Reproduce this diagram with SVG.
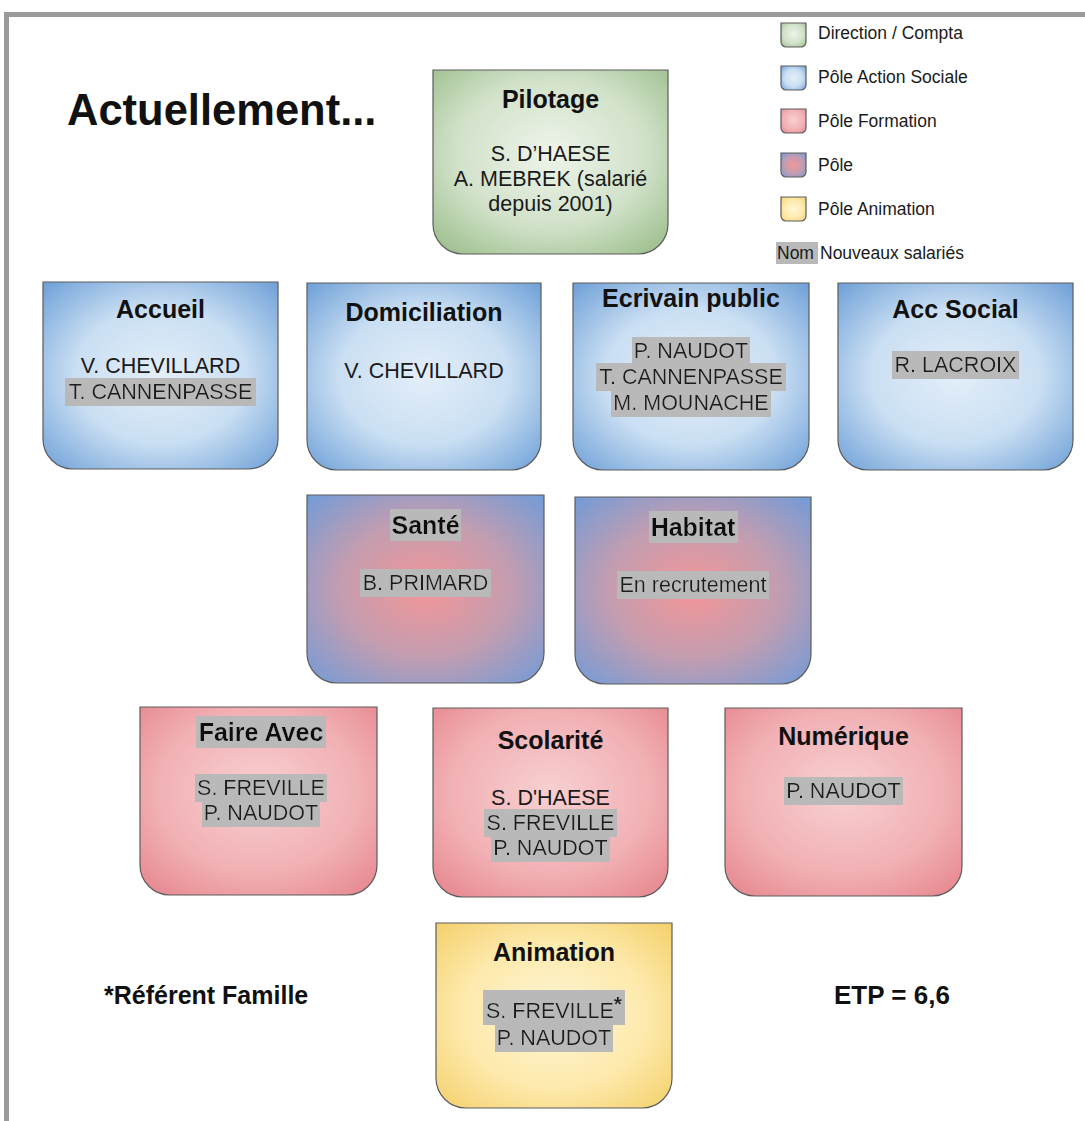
<svg xmlns="http://www.w3.org/2000/svg" width="1085" height="1121" viewBox="0 0 1085 1121">
  <defs>
    <radialGradient id="gGreen" cx="50%" cy="45%" r="72%">
      <stop offset="0" stop-color="#eef4ea"/>
      <stop offset="0.55" stop-color="#d2e2ca"/>
      <stop offset="1" stop-color="#9abd8a"/>
    </radialGradient>
    <radialGradient id="gBlue" cx="50%" cy="50%" r="72%">
      <stop offset="0" stop-color="#e3eef9"/>
      <stop offset="0.5" stop-color="#cadff3"/>
      <stop offset="1" stop-color="#6a9dd6"/>
    </radialGradient>
    <radialGradient id="gMix" cx="50%" cy="50%" r="72%">
      <stop offset="0" stop-color="#f49697"/>
      <stop offset="0.5" stop-color="#c39db0"/>
      <stop offset="1" stop-color="#6e9bd9"/>
    </radialGradient>
    <radialGradient id="gRed" cx="50%" cy="45%" r="72%">
      <stop offset="0" stop-color="#f8d0d2"/>
      <stop offset="0.6" stop-color="#f1b0b4"/>
      <stop offset="1" stop-color="#e6868d"/>
    </radialGradient>
    <radialGradient id="gYellow" cx="50%" cy="50%" r="72%">
      <stop offset="0" stop-color="#fff6d8"/>
      <stop offset="0.55" stop-color="#fde9ab"/>
      <stop offset="1" stop-color="#f4cf68"/>
    </radialGradient>
    <!-- grey background behind names of new staff -->
    <filter id="hl" x="-0.015" y="-0.06" width="1.03" height="1.12">
      <feFlood flood-color="#b9b9b9"/>
      <feComposite in="SourceGraphic" operator="over"/>
    </filter>
  </defs>
  <style>
    .box { stroke: #5c5c5c; stroke-width: 1.2; }
    .title { font-family: "Liberation Sans", Arial, sans-serif; font-weight: bold; font-size: 25px; fill: #111; text-anchor: middle; }
    .name { font-family: "Liberation Sans", Arial, sans-serif; font-size: 21.5px; fill: #1a1a1a; text-anchor: middle; }
    .hl { filter: url(#hl); }
    .leg { font-family: "Liberation Sans", Arial, sans-serif; font-size: 17.5px; fill: #1a1a1a; }
    .note { font-family: "Liberation Sans", Arial, sans-serif; font-weight: bold; font-size: 25px; fill: #111; }
    .sup { font-weight: bold; font-size: 21px; }
  </style>

  <rect width="1085" height="1121" fill="#ffffff"/>
  <!-- frame -->
  <path d="M6.5,1121 V14.5 H1085" fill="none" stroke="#9a9a9a" stroke-width="5"/>

  <text class="note" x="67" y="125" style="font-size:43.5px">Actuellement...</text>

  <!-- legend -->
  <g id="legend">
    <path class="box" d="M781,23 h25 v19 a5 5 0 0 1 -5 5 h-15 a5 5 0 0 1 -5 -5 z" fill="url(#gGreen)"/>
    <text class="leg" x="818" y="39">Direction / Compta</text>
    <path class="box" d="M781,66 h25 v19 a5 5 0 0 1 -5 5 h-15 a5 5 0 0 1 -5 -5 z" fill="url(#gBlue)"/>
    <text class="leg" x="818" y="83">Pôle Action Sociale</text>
    <path class="box" d="M781,109 h25 v19 a5 5 0 0 1 -5 5 h-15 a5 5 0 0 1 -5 -5 z" fill="url(#gRed)"/>
    <text class="leg" x="818" y="127">Pôle Formation</text>
    <path class="box" d="M781,153 h25 v19 a5 5 0 0 1 -5 5 h-15 a5 5 0 0 1 -5 -5 z" fill="url(#gMix)"/>
    <text class="leg" x="818" y="171">Pôle</text>
    <path class="box" d="M781,197 h25 v19 a5 5 0 0 1 -5 5 h-15 a5 5 0 0 1 -5 -5 z" fill="url(#gYellow)"/>
    <text class="leg" x="818" y="215">Pôle Animation</text>
    <rect x="776" y="242" width="42" height="22" fill="#b9b9b9"/>
    <text class="leg" x="777" y="259">Nom</text>
    <text class="leg" x="820" y="259">Nouveaux salariés</text>
  </g>

  <!-- no connectors are drawn between the units -->
  <g id="connectors"/>

  <g id="pilotage">
    <path class="box" d="M433,70 h235 v154 a30 30 0 0 1 -30 30 h-175 a30 30 0 0 1 -30 -30 z" fill="url(#gGreen)"/>
    <text class="title" x="550.5" y="108">Pilotage</text>
    <text class="name" x="550.5" y="161">S. D’HAESE</text>
    <text class="name" x="550.5" y="186">A. MEBREK (salarié</text>
    <text class="name" x="550.5" y="211">depuis 2001)</text>
  </g>

  <g id="accueil">
    <path class="box" d="M43,282 h235 v157 a30 30 0 0 1 -30 30 h-175 a30 30 0 0 1 -30 -30 z" fill="url(#gBlue)"/>
    <text class="title" x="160.5" y="318">Accueil</text>
    <text class="name" x="160.5" y="373">V. CHEVILLARD</text>
    <text class="name hl" x="160.5" y="399">T. CANNENPASSE</text>
  </g>

  <g id="domiciliation">
    <path class="box" d="M307,283 h234 v157 a30 30 0 0 1 -30 30 h-174 a30 30 0 0 1 -30 -30 z" fill="url(#gBlue)"/>
    <text class="title" x="424" y="321">Domiciliation</text>
    <text class="name" x="424" y="378">V. CHEVILLARD</text>
  </g>

  <g id="ecrivain">
    <path class="box" d="M573,283 h236 v157 a30 30 0 0 1 -30 30 h-176 a30 30 0 0 1 -30 -30 z" fill="url(#gBlue)"/>
    <text class="title" x="691" y="307">Ecrivain public</text>
    <text class="name hl" x="691" y="358">P. NAUDOT</text>
    <text class="name hl" x="691" y="384">T. CANNENPASSE</text>
    <text class="name hl" x="691" y="410">M. MOUNACHE</text>
  </g>

  <g id="acc-social">
    <path class="box" d="M838,283 h235 v157 a30 30 0 0 1 -30 30 h-175 a30 30 0 0 1 -30 -30 z" fill="url(#gBlue)"/>
    <text class="title" x="955.5" y="318">Acc Social</text>
    <text class="name hl" x="955.5" y="372">R. LACROIX</text>
  </g>

  <g id="sante">
    <path class="box" d="M307,495 h237 v158 a30 30 0 0 1 -30 30 h-177 a30 30 0 0 1 -30 -30 z" fill="url(#gMix)"/>
    <text class="title hl" x="425.5" y="534">Santé</text>
    <text class="name hl" x="425.5" y="590">B. PRIMARD</text>
  </g>

  <g id="habitat">
    <path class="box" d="M575,497 h236 v157 a30 30 0 0 1 -30 30 h-176 a30 30 0 0 1 -30 -30 z" fill="url(#gMix)"/>
    <text class="title hl" x="693" y="536">Habitat</text>
    <text class="name hl" x="693" y="592">En recrutement</text>
  </g>

  <g id="faire-avec">
    <path class="box" d="M140,707 h237 v158 a30 30 0 0 1 -30 30 h-177 a30 30 0 0 1 -30 -30 z" fill="url(#gRed)"/>
    <text class="title hl" x="261" y="741">Faire Avec</text>
    <text class="name hl" x="261" y="795">S. FREVILLE</text>
    <text class="name hl" x="261" y="820">P. NAUDOT</text>
  </g>

  <g id="scolarite">
    <path class="box" d="M433,708 h235 v159 a30 30 0 0 1 -30 30 h-175 a30 30 0 0 1 -30 -30 z" fill="url(#gRed)"/>
    <text class="title" x="550.5" y="749">Scolarité</text>
    <text class="name" x="550.5" y="805">S. D'HAESE</text>
    <text class="name hl" x="550.5" y="830">S. FREVILLE</text>
    <text class="name hl" x="550.5" y="855">P. NAUDOT</text>
  </g>

  <g id="numerique">
    <path class="box" d="M725,708 h237 v158 a30 30 0 0 1 -30 30 h-177 a30 30 0 0 1 -30 -30 z" fill="url(#gRed)"/>
    <text class="title" x="843.5" y="745">Numérique</text>
    <text class="name hl" x="843.5" y="798">P. NAUDOT</text>
  </g>

  <g id="animation">
    <path class="box" d="M436,923 h236 v155 a30 30 0 0 1 -30 30 h-176 a30 30 0 0 1 -30 -30 z" fill="url(#gYellow)"/>
    <text class="title" x="554" y="961">Animation</text>
    <text class="name hl" x="554" y="1018">S. FREVILLE<tspan class="sup" dy="-7">*</tspan></text>
    <text class="name hl" x="554" y="1045">P. NAUDOT</text>
  </g>

  <text class="note" x="104" y="1004">*Référent Famille</text>
  <text class="note" x="834" y="1004" style="font-size:26px">ETP = 6,6</text>
</svg>
